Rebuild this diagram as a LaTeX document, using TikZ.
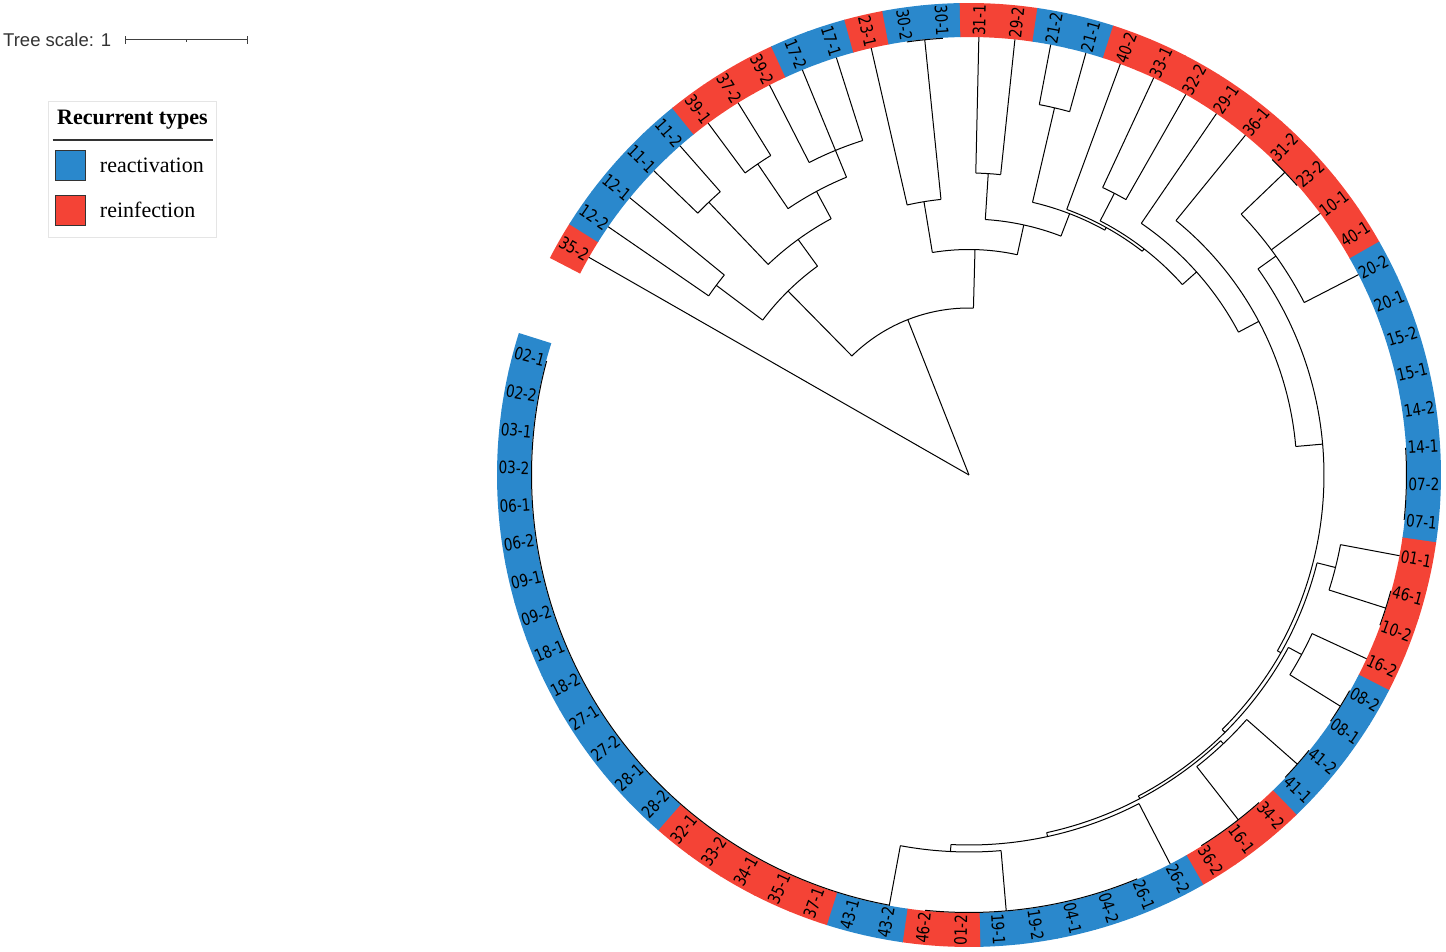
\documentclass[tikz,border=0pt]{standalone}
\usepackage{fontspec}
\setmainfont{Liberation Serif}
\newfontfamily\leaffont[FakeStretch=0.8]{DejaVu Sans}
\newfontfamily\scalefont{Liberation Sans}
\usetikzlibrary{positioning}
\definecolor{reactblue}{RGB}{42,136,204}
\definecolor{reinfred}{RGB}{244,67,54}
\tikzset{
	branch/.style={black, line width=1pt},
	tiplabel/.style={font=\leaffont\fontsize{17}{17}\selectfont, inner sep=0pt},
	keybox/.style={draw=black!80, line width=0.6pt, minimum size=30pt, inner sep=0pt}
}
% leaf angle from its index round the ring
\newcommand\tipang[1]{150.2-4.73*(#1)}
\newcommand\tipline[2]{%
	\pgfmathsetmacro\la{\tipang{#2}}%
	\draw[branch] (\la:#1) -- (\la:438);}
% parent radius, own radius, own index, first child, last child
\newcommand\cladearc[5]{%
	\pgfmathsetmacro\na{\tipang{#3}}%
	\pgfmathsetmacro\sa{\tipang{#4}}%
	\pgfmathsetmacro\ea{\tipang{#5}}%
	\draw[branch] (\na:#1) -- (\na:#2) (\sa:#2) arc[start angle=\sa, end angle=\ea, radius=#2pt];}
\newcommand\flatarc[2]{%
	\pgfmathsetmacro\sa{\tipang{#1}}%
	\pgfmathsetmacro\ea{\tipang{#2}}%
	\draw[branch] (\sa:437.5) arc[start angle=\sa, end angle=\ea, radius=437.5pt];}

\begin{document}
\begin{tikzpicture}[x=1pt, y=1pt]
	\useasboundingbox (-969,-477) rectangle (477,475);
	% ring of recurrent types
	\foreach \i/\lab/\col in {0/35-2/reinfred, 1/12-2/reactblue, 2/12-1/reactblue, 3/11-1/reactblue, 4/11-2/reactblue,
		5/39-1/reinfred, 6/37-2/reinfred, 7/39-2/reinfred, 8/17-2/reactblue, 9/17-1/reactblue, 10/23-1/reinfred,
		11/30-2/reactblue, 12/30-1/reactblue, 13/31-1/reinfred, 14/29-2/reinfred, 15/21-2/reactblue, 16/21-1/reactblue,
		17/40-2/reinfred, 18/33-1/reinfred, 19/32-2/reinfred, 20/29-1/reinfred, 21/36-1/reinfred, 22/31-2/reinfred,
		23/23-2/reinfred, 24/10-1/reinfred, 25/40-1/reinfred, 26/20-2/reactblue, 27/20-1/reactblue, 28/15-2/reactblue,
		29/15-1/reactblue, 30/14-2/reactblue, 31/14-1/reactblue, 32/07-2/reactblue, 33/07-1/reactblue, 34/01-1/reinfred,
		35/46-1/reinfred, 36/10-2/reinfred, 37/16-2/reinfred, 38/08-2/reactblue, 39/08-1/reactblue, 40/41-2/reactblue,
		41/41-1/reactblue, 42/34-2/reinfred, 43/16-1/reinfred, 44/36-2/reinfred, 45/26-2/reactblue, 46/26-1/reactblue,
		47/04-2/reactblue, 48/04-1/reactblue, 49/19-2/reactblue, 50/19-1/reactblue, 51/01-2/reinfred, 52/46-2/reinfred,
		53/43-2/reactblue, 54/43-1/reactblue, 55/37-1/reinfred, 56/35-1/reinfred, 57/34-1/reinfred, 58/33-2/reinfred,
		59/32-1/reinfred, 60/28-2/reactblue, 61/28-1/reactblue, 62/27-2/reactblue, 63/27-1/reactblue, 64/18-2/reactblue,
		65/18-1/reactblue, 66/09-2/reactblue, 67/09-1/reactblue, 68/06-2/reactblue, 69/06-1/reactblue, 70/03-2/reactblue,
		71/03-1/reactblue, 72/02-2/reactblue, 73/02-1/reactblue}{
		\pgfmathsetmacro\ta{\tipang{\i}}
		\pgfmathsetmacro\tb{\ta+2.42}
		\pgfmathsetmacro\tc{\ta-2.42}
		\pgfmathsetmacro\rot{(\ta>-90 && \ta<90) ? \ta : \ta+180}
		\fill[\col] (\tb:438) arc[start angle=\tb, end angle=\tc, radius=438pt]
			-- (\tc:472) arc[start angle=\tc, end angle=\tb, radius=472pt] -- cycle;
		\node[tiplabel, rotate=\rot] (t\i) at (\ta:455) {\lab};
	}
	% tree
	\tipline{0}{0}
	\cladearc{0}{167}{8.18}{3.3125}{13.05}
	\cladearc{167}{258}{3.3125}{1.5}{5.125}
	\cladearc{258}{316}{1.5}{1}{2}
	\tipline{316}{1} \tipline{316}{2}
	\cladearc{258}{291}{5.125}{3.5}{6.75}
	\cladearc{291}{377}{3.5}{3}{4}
	\tipline{377}{3} \tipline{377}{4}
	\cladearc{291}{322}{6.75}{5.5}{8}
	\cladearc{322}{376}{5.5}{5}{6}
	\tipline{376}{5} \tipline{376}{6}
	\cladearc{322}{351}{8}{7}{9}
	\tipline{351}{7} \tipline{351}{8} \tipline{351}{9}
	\cladearc{167}{225.5}{13.05}{10.75}{15.34}
	\cladearc{225.5}{277}{10.75}{10}{11.5}
	\tipline{277}{10}
	\cladearc{277}{437.5}{11.5}{11}{12}
	\cladearc{225.5}{256}{15.34}{13.5}{17.18}
	\cladearc{256}{302}{13.5}{13}{14}
	\tipline{302}{13} \tipline{302}{14}
	\cladearc{256}{280}{17.18}{15.5}{18.86}
	\cladearc{280}{377}{15.5}{15}{16}
	\tipline{377}{15} \tipline{377}{16}
	\cladearc{280}{283}{18.86}{17}{20.71}
	\tipline{283}{17}
	\cladearc{283}{286}{20.71}{18.5}{22.93}
	\cladearc{286}{317}{18.5}{18}{19}
	\tipline{317}{18} \tipline{317}{19}
	\cladearc{286}{305}{22.93}{20}{25.85}
	\tipline{305}{20}
	\cladearc{305}{328}{25.85}{21}{30.7}
	\tipline{328}{21}
	\cladearc{328}{355}{30.7}{24.25}{38.03}
	\cladearc{355}{377}{24.25}{22.5}{26}
	\cladearc{377}{437.5}{22.5}{22}{23}
	\tipline{377}{24} \tipline{377}{26}
	\flatarc{31}{33}
	\cladearc{355}{359}{38.03}{34.75}{41.3}
	\cladearc{359}{378}{34.75}{34}{35.5}
	\tipline{378}{34}
	\cladearc{378}{437.5}{35.5}{35}{36}
	\cladearc{359}{363}{41.3}{37.75}{44.9}
	\cladearc{363}{378}{37.75}{37}{38.5}
	\tipline{378}{37}
	\cladearc{378}{437.5}{38.5}{38}{39}
	\cladearc{363}{366}{44.9}{41.6}{48.19}
	\cladearc{366}{370}{41.6}{40.5}{42.75}
	\cladearc{370}{437.5}{40.5}{40}{41}
	\cladearc{370}{437.5}{42.75}{42}{44}
	\cladearc{366}{370}{48.19}{45}{51.375}
	\tipline{370}{45}
	\cladearc{370}{377}{51.375}{49.75}{53}
	\cladearc{377}{437.5}{49.75}{46}{52}
	\tipline{377}{53}
	\flatarc{53}{73}
	% legend
	\node[font=\scalefont\fontsize{18.5}{18.5}\selectfont, text=black!80, anchor=west, inner sep=0pt] (scaletext) at (-966,435) {Tree scale: 1};
	\draw[black!75, line width=1pt] (-843,435) -- (-721.7,435) (-843,431) -- (-843,439) (-721.7,431) -- (-721.7,439) (-782.3,435) -- (-782.3,433);
	\draw[black!10, line width=0.8pt] (-920.7,373.3) rectangle (-752.3,237.7);
	\node[font=\bfseries\fontsize{22}{22}\selectfont, inner sep=0pt] (keytitle) at (-836.5,355) {Recurrent types};
	\draw[black!80, line width=1.2pt] (-916.3,335) -- (-756.3,335);
	\node[keybox, fill=reactblue] (keyreact) at (-898.5,309.6) {};
	\node[keybox, fill=reinfred] (keyreinf) at (-898.5,265) {};
	\node[font=\fontsize{22}{22}\selectfont, anchor=west, inner sep=0pt, right=14pt of keyreact] (reacttext) {reactivation};
	\node[font=\fontsize{22}{22}\selectfont, anchor=west, inner sep=0pt, right=14pt of keyreinf] (reinftext) {reinfection};
\end{tikzpicture}
\end{document}
